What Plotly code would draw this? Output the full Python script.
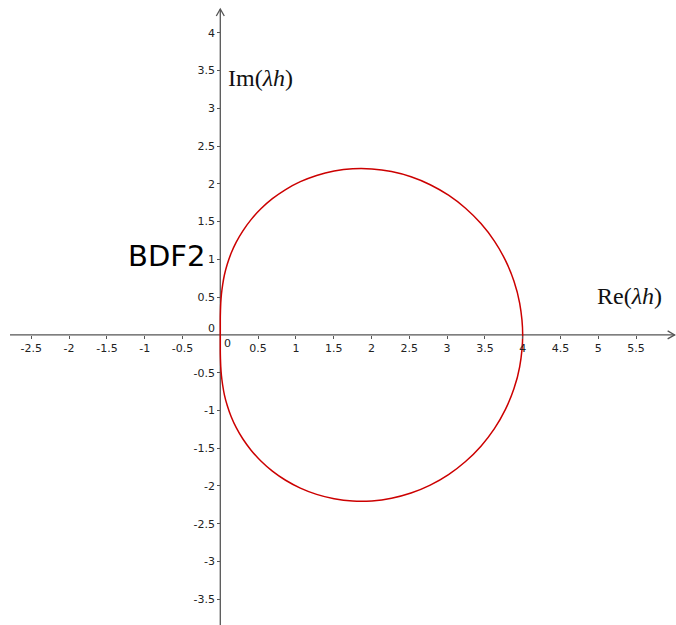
import plotly.graph_objects as go

# Boundary of the BDF2 stability region in the complex lambda*h plane
upper_re = [0.000, 0.000, 0.000, 0.002, 0.006, 0.015, 0.031, 0.055, 0.092, 0.143, 0.211, 0.299, 0.407, 0.537,
            0.689, 0.864, 1.059, 1.274, 1.506, 1.751, 2.006, 2.265, 2.523, 2.777, 3.019, 3.244, 3.448, 3.626,
            3.772, 3.885, 3.960, 4.000]
upper_im = [0.000, 0.100, 0.203, 0.309, 0.420, 0.538, 0.663, 0.796, 0.935, 1.080, 1.228, 1.378, 1.526, 1.669,
            1.803, 1.924, 2.028, 2.111, 2.169, 2.199, 2.197, 2.162, 2.093, 1.988, 1.849, 1.676, 1.473, 1.241,
            0.986, 0.711, 0.422, 0.000]
lower_re = [3.960, 3.885, 3.772, 3.626, 3.448, 3.244, 3.019, 2.777, 2.523, 2.265, 2.006, 1.751, 1.506, 1.274,
            1.059, 0.864, 0.689, 0.537, 0.407, 0.299, 0.211, 0.143, 0.092, 0.055, 0.031, 0.015, 0.006, 0.002,
            0.000, 0.000, 0.000]
lower_im = [-0.422, -0.711, -0.986, -1.241, -1.473, -1.676, -1.849, -1.988, -2.093, -2.162, -2.197, -2.199, -2.169,
            -2.111, -2.028, -1.924, -1.803, -1.669, -1.526, -1.378, -1.228, -1.080, -0.935, -0.796, -0.663, -0.538,
            -0.420, -0.309, -0.203, -0.100, 0.000]

x_ticks = [-2.5, -2, -1.5, -1, -0.5, 0.5, 1, 1.5, 2, 2.5, 3, 3.5, 4, 4.5, 5, 5.5]
x_tick_text = ["-2.5", "-2", "-1.5", "-1", "-0.5", "0.5", "1", "1.5", "2", "2.5", "3", "3.5", "4", "4.5", "5", "5.5"]
y_ticks = [-3.5, -3, -2.5, -2, -1.5, -1, -0.5, 0.5, 1, 1.5, 2, 2.5, 3, 3.5, 4]
y_tick_text = ["-3.5", "-3", "-2.5", "-2", "-1.5", "-1", "-0.5", "0.5", "1", "1.5", "2", "2.5", "3", "3.5", "4"]

X_RANGE = [-2.914, 6.028]
Y_RANGE = [-3.840, 4.433]
AXIS_COLOR = "#555555"
TICK_FONT = dict(family="DejaVu Sans", size=11, color="#222222")

fig = go.Figure()
fig.add_trace(go.Scatter(
    x=upper_re + lower_re,
    y=upper_im + lower_im,
    mode="lines",
    line=dict(color="#cc0000", width=1.5, shape="spline", smoothing=1.0),
    hoverinfo="skip",
    showlegend=False,
))

x_pos = (0 - Y_RANGE[0]) / (Y_RANGE[1] - Y_RANGE[0])
y_pos = (0 - X_RANGE[0]) / (X_RANGE[1] - X_RANGE[0])

fig.update_layout(
    width=676, height=625,
    margin=dict(l=0, r=0, t=0, b=0),
    paper_bgcolor="white", plot_bgcolor="white",
    xaxis=dict(
        range=X_RANGE, anchor="free", position=x_pos,
        showgrid=False, zeroline=False, showline=False,
        tickmode="array", tickvals=x_ticks, ticktext=x_tick_text,
        ticks="outside", ticklen=3, tickwidth=1, tickcolor=AXIS_COLOR,
        tickfont=TICK_FONT,
    ),
    yaxis=dict(
        range=Y_RANGE, anchor="free", position=y_pos,
        showgrid=False, zeroline=False, showline=False,
        tickmode="array", tickvals=y_ticks, ticktext=y_tick_text,
        ticks="outside", ticklen=3, tickwidth=1, tickcolor=AXIS_COLOR,
        tickfont=TICK_FONT,
    ),
)

# Axis lines with open arrowheads
x_tip, y_tip = 6.01, 4.314
dx_unit = (X_RANGE[1] - X_RANGE[0]) / 676
dy_unit = (Y_RANGE[1] - Y_RANGE[0]) / 625
axis_line = dict(color=AXIS_COLOR, width=1.3)
fig.add_shape(type="line", x0=-2.782, x1=x_tip, y0=0, y1=0, line=axis_line, layer="below")
fig.add_shape(type="line", x0=0, x1=0, y0=Y_RANGE[0], y1=y_tip, line=axis_line, layer="below")
fig.add_shape(type="path", layer="below", line=axis_line,
              path=f"M {x_tip - 7*dx_unit} {4*dy_unit} L {x_tip} 0 L {x_tip - 7*dx_unit} {-4*dy_unit}")
fig.add_shape(type="path", layer="below", line=axis_line,
              path=f"M {-4*dx_unit} {y_tip - 7*dy_unit} L 0 {y_tip} L {4*dx_unit} {y_tip - 7*dy_unit}")

# Origin labels offset from the axes
fig.add_annotation(x=0.089, y=-0.12, text="0", showarrow=False, font=TICK_FONT,
                   xanchor="center", yanchor="middle")
fig.add_annotation(x=-0.11, y=0.085, text="0", showarrow=False, font=TICK_FONT,
                   xanchor="center", yanchor="middle")

# Axis titles and method name
serif = dict(family="Liberation Serif", size=24, color="#111111")
fig.add_annotation(x=0.08, y=3.40, text="Im(<i>λh</i>)", showarrow=False, font=serif,
                   xanchor="left", yanchor="middle")
fig.add_annotation(x=4.96, y=0.515, text="Re(<i>λh</i>)", showarrow=False, font=serif,
                   xanchor="left", yanchor="middle")
fig.add_annotation(x=-0.17, y=1.044, text="BDF2", showarrow=False,
                   font=dict(family="DejaVu Sans", size=29, color="#000000"),
                   xanchor="right", yanchor="middle")

fig.write_html("out.html")
